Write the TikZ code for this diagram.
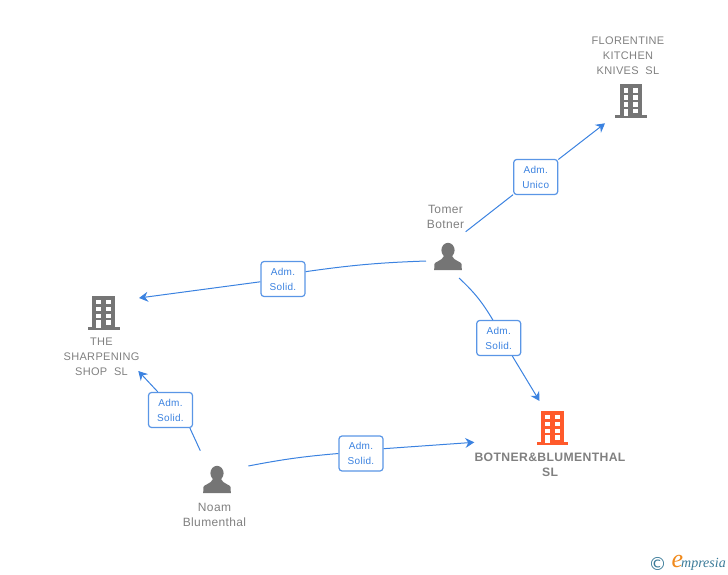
\documentclass[tikz,border=0pt]{standalone}
\usepackage{fontspec}
\setmainfont[LetterSpace=3]{Liberation Sans}
\newfontfamily\logofont{Liberation Serif}
\newfontfamily\copyfont{DejaVu Sans}
\usetikzlibrary{arrows.meta}

\definecolor{linkblue}{HTML}{3B82E0}
\definecolor{boxblue}{HTML}{5A96E6}
\definecolor{icongrey}{HTML}{757575}
\definecolor{textgrey}{HTML}{808080}
\definecolor{iconorange}{HTML}{FF5A2B}
\definecolor{logoblue}{HTML}{3A7A98}
\definecolor{logoorange}{HTML}{F08A1D}

\tikzstyle{company} = [align = center, text = textgrey, inner sep = 0pt, 
	font = \fontsize{11}{15}\selectfont]
\tikzstyle{mainco} = [company, font = \fontsize{12.2}{15}\selectfont\bfseries]
\tikzstyle{person} = [align = center, text = textgrey, inner sep = 0pt, 
	font = \fontsize{12}{15}\selectfont]
\tikzstyle{role} = [rectangle, rounded corners = 3pt, minimum width = 44pt, 
	minimum height = 35pt, inner sep = 0pt, align = center, fill = white, 
	line width = 1.2pt, draw = boxblue, text = linkblue, 
	font = \fontsize{10}{15}\selectfont]
\tikzstyle{link} = [draw = linkblue, line width = 1pt]
\tikzstyle{linkend} = [link, -{Stealth[length = 9pt, width = 10pt, inset = 3pt]}]

\tikzset{
	pics/building/.style = {code = {
		\fill [#1] (-11.3,0) rectangle (11.3,31);
		\fill [#1] (-15.8,31) rectangle (15.8,34);
		\foreach \row in {4.5,11.3,18.5} {
			\fill [white] (-7.5,\row) rectangle (-2.8,\row+4.4);
			\fill [white] (2,\row) rectangle (7.2,\row+4.4);
		}
		\fill [white] (-7.5,24.6) rectangle (-2.8,32);
		\fill [white] (2,24.6) rectangle (7.2,29);
	}},
	pics/human/.style = {code = {
		\fill [icongrey] (0,7.2) ellipse (6.6 and 7.4);
		\fill [icongrey] (-13.8,27) -- (-13.6,21) .. controls (-13.2,18.5) and (-6,18) .. (-4,13) 
			-- (4,13) .. controls (6,18) and (13.2,18.5) .. (13.6,21) -- (13.8,27) -- cycle;
	}}
}

\begin{document}
\begin{tikzpicture}[x = 1pt, y = -1pt]

\useasboundingbox (0,0) rectangle (728,575);

\pic at (631,84) {building = icongrey};
\pic at (103.7,295.5) {building = icongrey};
\pic at (552.5,410.5) {building = iconorange};
\pic at (448,243) {human};
\pic at (217,466) {human};

\node (florentine) [company] at (628,56) {FLORENTINE\\KITCHEN\\KNIVES\ \ SL};
\node (sharpening) [company] at (101.5,357) {THE\\SHARPENING\\SHOP\ \ SL};
\node (botnerblum) [mainco] at (550,464.5) {BOTNER\&BLUMENTHAL\\SL};
\node (tomer) [person] at (445.5,216.5) {Tomer\\Botner};
\node (noam) [person] at (214.5,514.5) {Noam\\Blumenthal};

\node (roleFlorentine) [role] at (535.7,177) {Adm.\\Unico};
\node (roleTomerShop) [role] at (283,279) {Adm.\\Solid.};
\node (roleTomerMain) [role] at (498.7,338) {Adm.\\Solid.};
\node (roleNoamShop) [role] at (170.5,410) {Adm.\\Solid.};
\node (roleNoamMain) [role] at (361,453.5) {Adm.\\Solid.};

\coordinate (tomerNE) at (465.7,231.7);
\coordinate (tomerW) at (426,261);
\coordinate (tomerSE) at (459,278);
\coordinate (noamN) at (200.3,450.7);
\coordinate (noamE) at (248.3,466);
\coordinate (florentineIn) at (605,123.3);
\coordinate (shopInE) at (139,298);
\coordinate (shopInS) at (138.3,371);
\coordinate (mainInN) at (539.5,401);
\coordinate (mainInW) at (474.3,442.3);

\draw [link] (tomerNE) -- (roleFlorentine);
\draw [linkend] (roleFlorentine) -- (florentineIn);
\draw [link] (tomerW) to [bend right = 3] (roleTomerShop.18);
\draw [linkend] (roleTomerShop.187) -- (shopInE);
\draw [link] (tomerSE) to [bend left = 8] (roleTomerMain.108);
\draw [linkend] (roleTomerMain.-53) -- (mainInN);
\draw [link] (noamN) -- (roleNoamShop.-43);
\draw [linkend] (roleNoamShop.125) -- (shopInS);
\draw [link] (noamE) to [bend left = 3] (roleNoamMain.west);
\draw [linkend] (roleNoamMain.12) -- (mainInW);

% logo
\node (logoCopy) [text = logoblue, inner sep = 0pt, font = \copyfont\fontsize{18}{18}\selectfont] at (657.7,563.5) {©};
\node (logoE) [text = logoorange, inner sep = 0pt, font = \logofont\itshape\fontsize{26}{26}\selectfont] at (677.5,561.5) {e};
\node (logoName) [anchor = west, text = logoblue, inner sep = 0pt, font = \logofont\itshape\fontsize{14}{14}\selectfont] at (681,564) {mpresia};

\end{tikzpicture}
\end{document}
